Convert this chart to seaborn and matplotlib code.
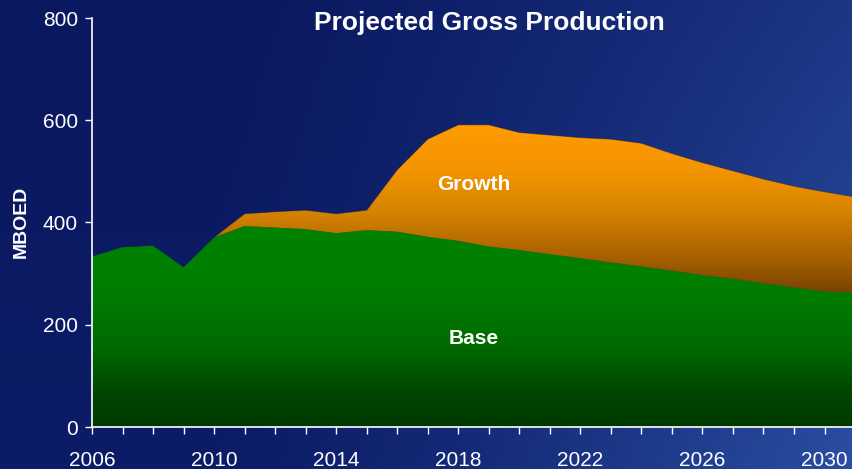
import numpy as np
import pandas as pd
import matplotlib
matplotlib.use("Agg")
import matplotlib.pyplot as plt
import seaborn as sns
from matplotlib.colors import LinearSegmentedColormap

# values (MBOED)
years = list(range(2006, 2032))
base = [334, 352, 355, 313, 371, 393, 390, 387, 379, 385, 382, 372, 364,
        353, 346, 338, 330, 322, 314, 306, 297, 290, 281, 273, 265, 263]
growth = [0, 0, 0, 0, 0, 24, 31, 37, 38, 39, 121, 191, 227,
          238, 230, 233, 236, 241, 241, 229, 220, 211, 204, 198, 195, 187]
x_tick_labels = ["2006", "2010", "2014", "2018", "2022", "2026", "2030"]
y_ticks = [0, 200, 400, 600, 800]

df = pd.DataFrame({"year": years, "base": base, "growth": growth})
df["total"] = df["base"] + df["growth"]

sns.set_theme(style="white")
plt.rcParams["font.family"] = ["Liberation Sans", "DejaVu Sans"]

fig = plt.figure(figsize=(8.52, 4.69), dpi=100)

# background gradient (dark navy top-left -> lighter blue bottom-right)
bg = fig.add_axes([0, 0, 1, 1], zorder=0)
h, w = 120, 220
xx, yy = np.meshgrid(np.linspace(0, 1, w), np.linspace(0, 1, h))
tl = np.array([10, 24, 96]) / 255
tr = np.array([28, 54, 132]) / 255
bl = np.array([12, 28, 102]) / 255
br = np.array([42, 78, 162]) / 255
tx = np.clip((xx - 0.25) / 0.75, 0, 1) ** 1.3
img = ((1 - tx) * (1 - yy))[..., None] * tl + (tx * (1 - yy))[..., None] * tr \
    + ((1 - tx) * yy)[..., None] * bl + (tx * yy)[..., None] * br
bg.imshow(img, aspect="auto", extent=[0, 1, 0, 1], origin="upper")
bg.axis("off")

ax = fig.add_axes([92 / 852, 1 - 427 / 469, 1 - 92 / 852, (427 - 18) / 469], zorder=1)
ax.patch.set_alpha(0)

xmin, xmax = 2006, 2030.9
ymax = 800

green_cmap = LinearSegmentedColormap.from_list("g", [
    (0.0, "#003a00"), (60 / 800, "#004400"), (150 / 800, "#006800"),
    (250 / 800, "#007d00"), (400 / 800, "#008200"), (1.0, "#008200")])
orange_cmap = LinearSegmentedColormap.from_list("o", [
    (0.0, "#6e3e00"), (260 / 800, "#774300"), (330 / 800, "#a66000"),
    (420 / 800, "#d68300"), (500 / 800, "#f39400"), (600 / 800, "#ff9c00"),
    (1.0, "#ffa000")])

grad = np.linspace(0, 1, 400).reshape(-1, 1)

poly_base = ax.fill_between(df["year"], 0, df["base"], facecolor="none", lw=0)
poly_growth = ax.fill_between(df["year"], df["base"], df["total"], facecolor="none", lw=0)

im_g = ax.imshow(grad, cmap=green_cmap, aspect="auto", origin="lower",
                 extent=[xmin, 2031, 0, ymax], zorder=1)
im_g.set_clip_path(poly_base.get_paths()[0], ax.transData)
im_o = ax.imshow(grad, cmap=orange_cmap, aspect="auto", origin="lower",
                 extent=[xmin, 2031, 0, ymax], zorder=1)
im_o.set_clip_path(poly_growth.get_paths()[0], ax.transData)

# thin edge along the top outline
sns.lineplot(x=df["year"], y=df["total"], ax=ax, color="#1a1a40", lw=0.6, alpha=0.5, zorder=2)

ax.set_xlim(xmin, xmax)
ax.set_ylim(0, ymax)
ax.set_xticks(years[:-1])
ax.set_xticklabels([str(y) if str(y) in x_tick_labels else "" for y in years[:-1]])
ax.set_yticks(y_ticks)
ax.set_yticklabels([str(v) for v in y_ticks])
ax.set_xlabel("")
ax.set_ylabel("")

for side in ["top", "right"]:
    ax.spines[side].set_visible(False)
for side in ["left", "bottom"]:
    ax.spines[side].set_color("white")
    ax.spines[side].set_linewidth(1.2)
    ax.spines[side].set_zorder(5)

ax.tick_params(axis="both", colors="white", direction="out", length=5, width=1,
               labelsize=15)
ax.tick_params(axis="x", pad=12)
ax.tick_params(axis="y", pad=5)
ax.xaxis.set_ticks_position("bottom")
ax.yaxis.set_ticks_position("left")

fig.text(489 / 852, 1 - 23 / 469, "Projected Gross Production", color="white",
         fontsize=19, fontweight="bold", ha="center", va="center")
fig.text(21 / 852, 1 - 222 / 469, "MBOED", color="white", fontsize=14,
         fontweight="bold", rotation=90, ha="center", va="center")
ax.text(2018.5, 474, "Growth", color="white", fontsize=15, fontweight="bold",
        ha="center", va="center", zorder=4)
ax.text(2018.5, 174, "Base", color="white", fontsize=15, fontweight="bold",
        ha="center", va="center", zorder=4)

fig.savefig("out.png", dpi=100)
